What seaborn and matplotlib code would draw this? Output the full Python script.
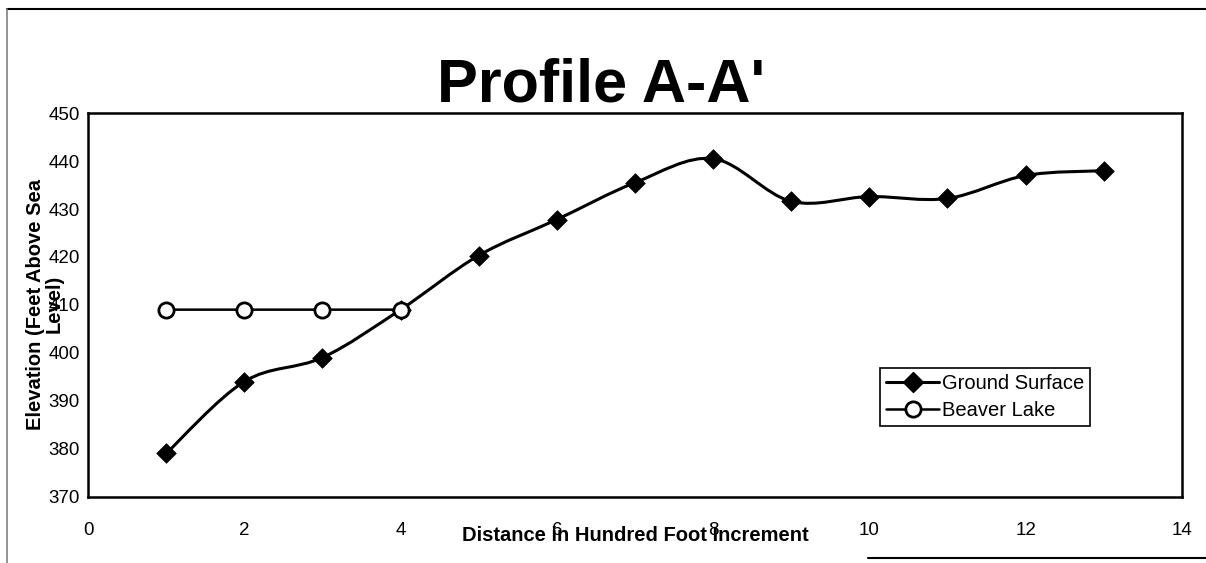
import numpy as np
import matplotlib
matplotlib.use('Agg')
import matplotlib.pyplot as plt
from matplotlib.path import Path
from matplotlib.patches import PathPatch
from matplotlib.lines import Line2D
import seaborn as sns

# Datos
distance = [1, 2, 3, 4, 5, 6, 7, 8, 9, 10, 11, 12, 13]
ground_surface = [379, 394, 399, 409, 420.3, 427.8, 435.5, 440.5, 431.6, 432.6, 432.2, 437, 438]
lake_distance = [1, 2, 3, 4]
beaver_lake = [409, 409, 409, 409]

sns.set_theme(style='white')
plt.rcParams['font.family'] = ['Liberation Sans', 'DejaVu Sans']
plt.rcParams['text.color'] = 'black'

fig = plt.figure(figsize=(12.06, 5.63), dpi=100)
ax = fig.add_axes([0.073, 0.118, 0.907, 0.681])


def smooth_path(xs, ys):
    # curva suavizada tipo Excel (Bezier) a traves de los puntos
    pts = np.column_stack([xs, ys]).astype(float)
    n = len(pts)
    verts = [pts[0]]
    codes = [Path.MOVETO]
    for i in range(n - 1):
        p0 = pts[max(i - 1, 0)]
        p1 = pts[i]
        p2 = pts[i + 1]
        p3 = pts[min(i + 2, n - 1)]
        c1 = p1 + (p2 - p0) / 6
        c2 = p2 - (p3 - p1) / 6
        verts += [c1, c2, p2]
        codes += [Path.CURVE4] * 3
    return Path(verts, codes)


ax.add_patch(PathPatch(smooth_path(distance, ground_surface), fill=False,
                       edgecolor='black', lw=2.2, zorder=2))
ax.add_patch(PathPatch(smooth_path(lake_distance, beaver_lake), fill=False,
                       edgecolor='black', lw=1.8, zorder=2))

sns.scatterplot(x=distance, y=ground_surface, marker='D', s=100, color='black',
                edgecolor='black', linewidth=0.5, ax=ax, zorder=3)
sns.scatterplot(x=lake_distance, y=beaver_lake, marker='o', s=120, color='white',
                edgecolor='black', linewidth=2, ax=ax, zorder=3)

ax.set_xlim(0, 14)
ax.set_ylim(370, 450)
ax.set_xticks(range(0, 15, 2))
ax.set_yticks(range(370, 451, 10))
ax.tick_params(axis='both', direction='inout', length=8, width=1, color='black',
               labelsize=13.5, labelcolor='black')
ax.tick_params(axis='x', pad=14)
ax.tick_params(axis='y', pad=2)
for s in ax.spines.values():
    s.set_visible(True)
    s.set_color('black')
    s.set_linewidth(1.8)

fig.text(0.498, 0.82, "Profile A-A'", ha='center', va='baseline',
         fontsize=44, fontweight='bold', color='black')
fig.text(0.527, 0.048, 'Distance in Hundred Foot Increment', ha='center', va='center',
         fontsize=14.5, fontweight='bold', color='black')
fig.text(0.037, 0.46, 'Elevation (Feet Above Sea\nLevel)', ha='center', va='center',
         rotation=90, fontsize=14.5, fontweight='bold', multialignment='center',
         linespacing=0.95, color='black')

handles = [
    Line2D([], [], color='black', lw=2.2, marker='D', markersize=10,
           markerfacecolor='black', markeredgecolor='black'),
    Line2D([], [], color='black', lw=1.8, marker='o', markersize=11,
           markerfacecolor='white', markeredgecolor='black', markeredgewidth=2),
]
leg = ax.legend(handles, ['Ground Surface', 'Beaver Lake'], loc='upper left',
                bbox_to_anchor=(0.730, 0.347), bbox_transform=fig.transFigure,
                fontsize=14.5, frameon=True, fancybox=False, framealpha=1,
                edgecolor='black', handlelength=2.6, handletextpad=0.15,
                borderpad=0.3, labelspacing=0.4, borderaxespad=0)
leg.get_frame().set_linewidth(1.2)
for t in leg.get_texts():
    t.set_color('black')

# marco del documento escaneado
fig.add_artist(Line2D([0.006, 1.0], [0.984, 0.984], color='black', lw=1.5))
fig.add_artist(Line2D([0.006, 0.006], [0.0, 0.984], color='gray', lw=1.2))
fig.add_artist(Line2D([0.72, 1.0], [0.009, 0.009], color='black', lw=1.5))

fig.savefig('out.png', dpi=100)
